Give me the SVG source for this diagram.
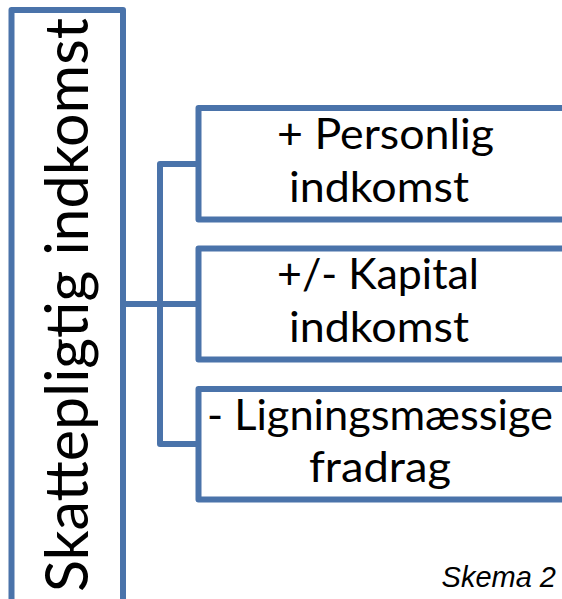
<svg xmlns="http://www.w3.org/2000/svg" width="562" height="599" viewBox="0 0 562 599">
  <style>
    .frame { fill: #ffffff; stroke: #4a73aa; stroke-width: 6; stroke-linejoin: round; }
    .link { fill: none; stroke: #4a73aa; stroke-width: 6; stroke-linejoin: round; }
    .label { font-family: Lato, "Open Sans", "Noto Sans", sans-serif; font-size: 42px; fill: #000000; text-anchor: middle; }
    .title { font-family: Lato, "Open Sans", "Noto Sans", sans-serif; font-size: 60px; fill: #000000; text-anchor: middle; }
    .caption { font-family: "Liberation Sans", Arial, sans-serif; font-style: italic; font-size: 29px; fill: #000000; text-anchor: end; }
  </style>
  <rect width="562" height="599" fill="#ffffff"/>

  <!-- connectors from the main box to the three items -->
  <g id="connectors">
    <path class="link" d="M123 304 H198"/>
    <path class="link" d="M198 164 H160 V444 H198"/>
  </g>

  <g id="node-total">
    <rect class="frame" x="11.5" y="10" width="111.5" height="620"/>
    <text class="title" transform="translate(88 305) rotate(-90)" textLength="574" lengthAdjust="spacingAndGlyphs">Skattepligtig indkomst</text>
  </g>

  <g id="node-personlig">
    <rect class="frame" x="198.5" y="108" width="380" height="111.5"/>
    <text class="label" x="385.5" y="149" textLength="217" lengthAdjust="spacingAndGlyphs">+ Personlig</text>
    <text class="label" x="379" y="202" textLength="180" lengthAdjust="spacingAndGlyphs">indkomst</text>
  </g>

  <g id="node-kapital">
    <rect class="frame" x="198.5" y="248.5" width="380" height="111"/>
    <text class="label" x="378" y="289" textLength="202" lengthAdjust="spacingAndGlyphs">+/- Kapital</text>
    <text class="label" x="379" y="342" textLength="180" lengthAdjust="spacingAndGlyphs">indkomst</text>
  </g>

  <g id="node-fradrag">
    <rect class="frame" x="198.5" y="389" width="380" height="110.5"/>
    <text class="label" x="380" y="430" textLength="346" lengthAdjust="spacingAndGlyphs">- Ligningsmæssige</text>
    <text class="label" x="380" y="482" textLength="142" lengthAdjust="spacingAndGlyphs">fradrag</text>
  </g>

  <text class="caption" x="556" y="587">Skema 2</text>
</svg>
